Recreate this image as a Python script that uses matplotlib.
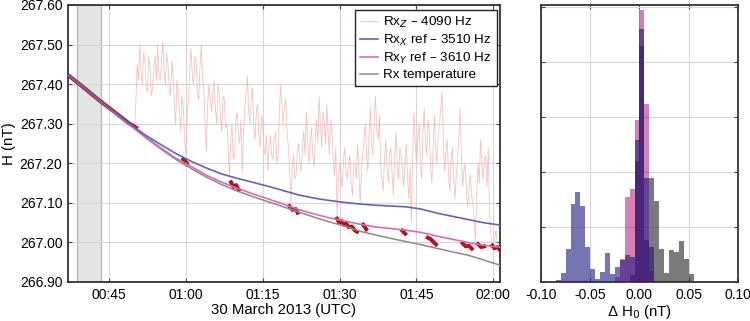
import numpy as np
import matplotlib
matplotlib.use("Agg")
import matplotlib.pyplot as plt

plt.rcParams['font.family'] = ['Liberation Sans', 'DejaVu Sans']
plt.rcParams['font.size'] = 10

# ---- time series (minutes after 00:00 UTC, 30 March 2013) ----
curve_t = [37, 40, 43, 46, 49, 52, 55, 58, 61, 64, 67, 70, 73, 76, 79, 82, 85, 88,
           91, 94, 97, 100, 103, 106, 109, 112, 115, 118, 121.2]
rx_x = [267.423, 267.392, 267.360, 267.330, 267.300, 267.272, 267.248, 267.225, 267.205,
        267.188, 267.173, 267.162, 267.152, 267.142, 267.131, 267.120, 267.112, 267.106,
        267.101, 267.097, 267.094, 267.092, 267.090, 267.084, 267.074, 267.066, 267.058,
        267.050, 267.044]
rx_y = [267.423, 267.392, 267.360, 267.328, 267.298, 267.268, 267.240, 267.213, 267.192,
        267.170, 267.152, 267.137, 267.123, 267.110, 267.097, 267.083, 267.072, 267.062,
        267.054, 267.046, 267.039, 267.035, 267.031, 267.025, 267.016, 267.008, 267.000,
        266.993, 266.988]
rx_temp = [267.423, 267.392, 267.360, 267.328, 267.297, 267.266, 267.237, 267.210, 267.187,
           267.165, 267.146, 267.130, 267.116, 267.103, 267.090, 267.077, 267.064, 267.052,
           267.041, 267.028, 267.019, 267.010, 267.002, 266.994, 266.985, 266.976, 266.968,
           266.956, 266.943]

# Rx_Z 4090 Hz, read every 0.25 min from 50.0 to 121.0
# values at whole/half minutes
rxz_main = [267.295, 267.45, 267.50, 267.40, 267.46, 267.38, 267.44, 267.39, 267.47, 267.50,
            267.41, 267.51, 267.40, 267.45, 267.37, 267.42, 267.30, 267.38, 267.28, 267.34,
            267.22, 267.36, 267.49, 267.40, 267.46, 267.36, 267.50, 267.38, 267.23, 267.40,
            267.33, 267.41, 267.30, 267.38, 267.28, 267.36, 267.30, 267.17, 267.30, 267.22,
            267.33, 267.25, 267.175, 267.34, 267.42, 267.30, 267.39, 267.26, 267.35, 267.24,
            267.30, 267.22, 267.18, 267.27, 267.21, 267.28, 267.22, 267.40, 267.30, 267.36,
            267.24, 267.10, 267.22, 267.17, 267.25, 267.18, 267.28, 267.33, 267.20, 267.29,
            267.19, 267.31, 267.37, 267.24, 267.30, 267.35, 267.22, 267.28, 267.17, 267.06,
            267.20, 267.14, 267.24, 267.16, 267.22, 267.12, 267.20, 267.25, 267.10, 267.22,
            267.30, 267.18, 267.34, 267.22, 267.37, 267.26, 267.20, 267.13, 267.26, 267.15,
            267.24, 267.12, 267.28, 267.16, 267.22, 267.14, 267.25, 267.11, 267.05, 267.33,
            267.20, 267.30, 267.16, 267.34, 267.22, 267.28, 267.15, 267.32, 267.20, 267.30,
            267.38, 267.18, 267.26, 267.13, 267.24, 267.11, 267.20, 267.34, 267.14, 267.20,
            267.09, 267.17, 267.10, 267.00, 267.20, 267.26, 267.16, 267.22, 267.24, 267.02,
            266.99, 267.03, 266.99]
# values at the quarter minutes in between
rxz_mid = [267.36, 267.41, 267.43, 267.48, 267.39, 267.47, 267.37, 267.44, 267.41, 267.42,
           267.46, 267.43, 267.48, 267.39, 267.46, 267.35, 267.41, 267.33, 267.37, 267.26,
           267.31, 267.44, 267.42, 267.47, 267.38, 267.44, 267.42, 267.30, 267.35, 267.36,
           267.38, 267.34, 267.40, 267.32, 267.37, 267.29, 267.24, 267.26, 267.21, 267.31,
           267.27, 267.31, 267.28, 267.38, 267.33, 267.36, 267.29, 267.33, 267.27, 267.32,
           267.24, 267.27, 267.24, 267.22, 267.26, 267.20, 267.33, 267.34, 267.35, 267.28,
           267.18, 267.19, 267.16, 267.23, 267.20, 267.24, 267.22, 267.26, 267.25, 267.22,
           267.26, 267.25, 267.30, 267.33, 267.25, 267.28, 267.31, 267.21, 267.24, 267.16,
           267.17, 267.21, 267.18, 267.20, 267.15, 267.19, 267.16, 267.18, 267.17, 267.26,
           267.23, 267.27, 267.25, 267.31, 267.28, 267.32, 267.16, 267.21, 267.19, 267.22,
           267.17, 267.22, 267.19, 267.24, 267.18, 267.21, 267.17, 267.19, 267.22, 267.25,
           267.26, 267.21, 267.27, 267.25, 267.31, 267.19, 267.24, 267.23, 267.27, 267.34,
           267.25, 267.23, 267.17, 267.21, 267.16, 267.17, 267.27, 267.22, 267.18, 267.13,
           267.14, 267.12, 267.06, 267.12, 267.15, 267.20, 267.21, 267.14, 267.08, 266.99,
           267.01, 267.00]
rxz_start, rxz_step = 50.0, 0.25
rx_z = np.empty(len(rxz_main) + len(rxz_mid))
rx_z[0::2] = rxz_main
rx_z[1::2] = rxz_mid
rxz_t = rxz_start + rxz_step * np.arange(len(rx_z))

# calibration points (dark red), NaN separates groups
cal_t = [37, 40, 43, 46, 49, 50.3, np.nan,
         59.5, 60.2, np.nan,
         68.8, 69.3, 69.8, 70.3, np.nan,
         80.2, 80.8, 81.4, 81.8, np.nan,
         89.5, 89.9, 90.3, 90.8, 91.3, 91.8, 92.4, 93.0, 93.4, np.nan,
         94.6, 95.2, np.nan,
         102.2, 102.8, np.nan,
         107.2, 107.8, 108.4, 108.8, np.nan,
         114.0, 114.6, 115.2, 115.8, np.nan,
         117.0, 117.6, 118.2, np.nan,
         119.8, 120.2, 120.8, 121.2]
cal_h = [267.423, 267.392, 267.360, 267.330, 267.300, 267.290, np.nan,
         267.210, 267.200, np.nan,
         267.152, 267.140, 267.145, 267.133, np.nan,
         267.092, 267.082, 267.085, 267.075, np.nan,
         267.060, 267.050, 267.055, 267.045, 267.048, 267.038, 267.040, 267.030, 267.027, np.nan,
         267.045, 267.033, np.nan,
         267.030, 267.022, np.nan,
         267.012, 267.008, 267.000, 266.995, np.nan,
         266.998, 266.990, 266.992, 266.984, np.nan,
         266.996, 266.988, 266.990, np.nan,
         266.992, 266.985, 266.988, 266.982]

shade_span = (38.7, 43.5)
time_ticks = [45, 60, 75, 90, 105, 120]
time_labels = ['00:45', '01:00', '01:15', '01:30', '01:45', '02:00']

# ---- histogram of Delta H0 ----
bin_edges = np.round(np.arange(-0.085, 0.0551, 0.005), 3)
hist_blue = [2, 8, 30, 71, 82, 69, 32, 12, 3, 9, 26, 7, 14, 20, 25, 23, 129, 230, 95, 32,
             0, 0, 0, 0, 0, 0, 0, 0]
hist_pink = [0, 0, 0, 0, 0, 0, 0, 0, 0, 0, 0, 0, 5, 21, 77, 85, 147, 247, 162, 10,
             0, 0, 0, 0, 0, 0, 0, 0]
hist_gray = [0, 0, 0, 0, 0, 0, 0, 0, 0, 0, 0, 0, 0, 0, 0, 6, 110, 215, 38, 95,
             74, 30, 8, 29, 27, 37, 21, 7]

c_z = '#f4b6b6'
c_x = '#6262bb'
c_y = '#d46cb8'
c_t = '#8a8a8a'
c_cal = '#b01414'

fig = plt.figure(figsize=(7.5, 3.21), dpi=100)
ax = fig.add_axes([0.0907, 0.1215, 0.576, 0.863])
ax2 = fig.add_axes([0.7213, 0.1215, 0.2627, 0.863])

ax.axvspan(*shade_span, facecolor='#e2e5e2', edgecolor='#b8bcb8', lw=1.0, zorder=0)
ax.plot(rxz_t, rx_z, color=c_z, lw=0.55, alpha=0.9, zorder=2, label='Rx$_Z$ \u2013 4090 Hz')
ax.plot(cal_t, cal_h, color=c_cal, lw=2.8, zorder=2.5)
ax.plot(curve_t, rx_temp, color=c_t, lw=1.1, zorder=3, label='Rx temperature')
ax.plot(curve_t, rx_y, color=c_y, lw=1.2, zorder=3.1, label='Rx$_Y$ ref \u2013 3610 Hz')
ax.plot(curve_t, rx_x, color=c_x, lw=1.2, zorder=3.2, label='Rx$_X$ ref \u2013 3510 Hz')

ax.set_xlim(37.0, 121.3)
ax.set_ylim(266.90, 267.60)
ax.set_xticks(time_ticks)
ax.set_xticklabels(time_labels)
ax.set_yticks(np.round(np.arange(266.90, 267.61, 0.10), 2))
ax.yaxis.set_major_formatter(matplotlib.ticker.FormatStrFormatter('%.2f'))
ax.set_xlabel('30 March 2013 (UTC)', fontsize=10.8, labelpad=1)
ax.set_ylabel('H (nT)', fontsize=10.8, labelpad=3)

handles, labels = ax.get_legend_handles_labels()
order = [0, 3, 2, 1]
leg = ax.legend([handles[i] for i in order], [labels[i] for i in order],
                loc='upper right', bbox_to_anchor=(0.992, 0.982), borderaxespad=0,
                fancybox=False, framealpha=1, edgecolor='#222222',
                handlelength=1.3, handletextpad=0.4, labelspacing=0.22,
                borderpad=0.35, fontsize=9.7)
leg.get_frame().set_linewidth(1.0)
leg.set_zorder(10)

# histogram: gray, then pink, then blue
ax2.hist(bin_edges[:-1], bins=bin_edges, weights=hist_gray, color='#333333', alpha=0.65, zorder=2)
ax2.hist(bin_edges[:-1], bins=bin_edges, weights=hist_pink, color='#ad0070', alpha=0.5, zorder=3)
ax2.hist(bin_edges[:-1], bins=bin_edges, weights=hist_blue, color='#1a1a80', alpha=0.6, zorder=4)
ax2.set_xlim(-0.10, 0.10)
ax2.set_ylim(0, 252)
ax2.set_xticks([-0.10, -0.05, 0.00, 0.05, 0.10])
ax2.xaxis.set_major_formatter(matplotlib.ticker.FormatStrFormatter('%.2f'))
ax2.set_yticks([0, 50, 100, 150, 200, 250])
ax2.set_yticklabels([])
ax2.set_xlabel('\u0394 H$_0$ (nT)', fontsize=10.8, labelpad=1)

for a in (ax, ax2):
    a.grid(True, color='#d6d6d6', lw=0.8, zorder=0)
    a.set_axisbelow(True)
    a.tick_params(direction='in', top=True, right=True, length=3, width=0.8,
                  color='#444444', labelsize=10, pad=4)
    for s in a.spines.values():
        s.set_color('#333333')
        s.set_linewidth(1.3)

fig.savefig('out.png', dpi=100)
